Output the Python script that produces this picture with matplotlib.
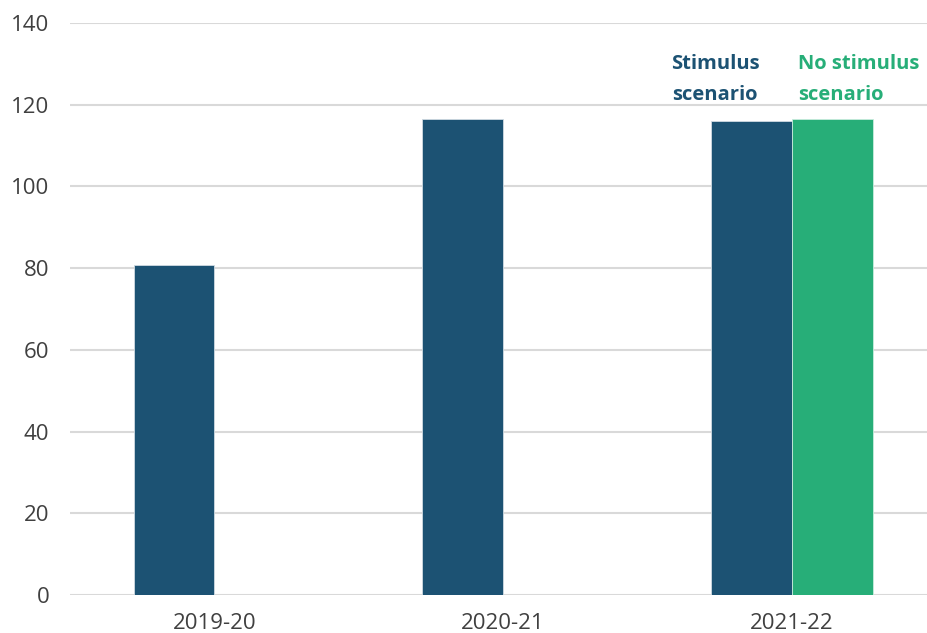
import matplotlib
matplotlib.use("Agg")
import matplotlib.pyplot as plt
import numpy as np

categories = ["2019-20", "2020-21", "2021-22"]
stimulus = [80.7, 116.5, 116.0]
no_stimulus = [np.nan, np.nan, 116.5]
yticks = [0, 20, 40, 60, 80, 100, 120, 140]

c_blue = "#1C5273"
c_green = "#27AE78"

plt.rcParams['font.family'] = ['Open Sans', 'DejaVu Sans']

fig = plt.figure(figsize=(9.27, 6.33), dpi=100)
ax = fig.add_axes([70/927, 1-595/633, 1-70/927, (595-23)/633])

x = np.arange(len(categories))
w = 0.28
ax.bar(x - w/2, stimulus, width=w, color=c_blue, edgecolor="#d0dbe3", linewidth=0.6, zorder=3)
ax.bar(x + w/2, no_stimulus, width=w, color=c_green, edgecolor="#c8ecdd", linewidth=0.6, zorder=3)

ax.set_xlim(-0.5, 2.468)
ax.set_ylim(0, 140)
ax.set_yticks(yticks)
ax.set_xticks(x)
ax.set_xticklabels(categories)
ax.yaxis.grid(True, color="#d9d9d9", linewidth=1.5, zorder=0)
ax.set_axisbelow(True)
for s in ax.spines.values():
    s.set_visible(False)
ax.tick_params(axis='both', length=0, labelsize=16, colors="#404040")
ax.tick_params(axis='y', pad=15)
ax.tick_params(axis='x', pad=13)

ax.text(2 - 0.265, 132.4, "Stimulus\nscenario", color=c_blue, fontsize=14.5, fontweight='bold',
        ha='center', va='top', linespacing=1.75)
ax.text(2 + 0.022, 132.4, "No stimulus\nscenario", color=c_green, fontsize=14.5, fontweight='bold',
        ha='left', va='top', linespacing=1.75)

fig.savefig("out.png", dpi=100)
